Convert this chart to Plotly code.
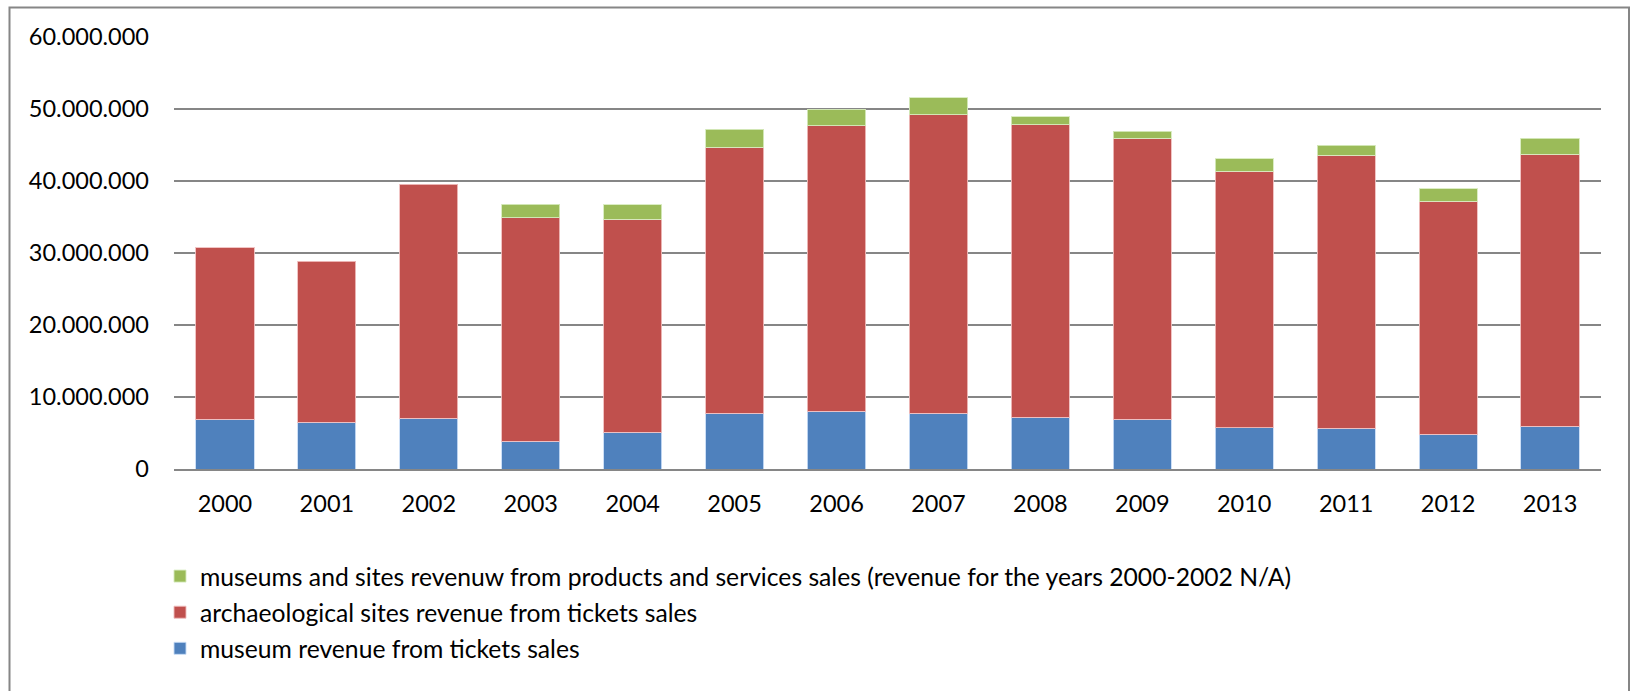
import plotly.graph_objects as go

# Annual revenue (EUR) by source, 2000-2013
years = ["2000", "2001", "2002", "2003", "2004", "2005", "2006",
         "2007", "2008", "2009", "2010", "2011", "2012", "2013"]

museum_tickets = [6880000, 6470000, 7020000, 3850000, 5090000, 7710000, 8030000,
                  7750000, 7160000, 6880000, 5730000, 5640000, 4860000, 5920000]

archaeological_tickets = [23860000, 22370000, 32520000, 31060000, 29630000, 37010000, 39660000,
                          41420000, 40660000, 39090000, 35610000, 37970000, 32360000, 37830000]

# products and services sales not available for 2000-2002
products_services = [None, None, None, 1850000, 1950000, 2460000, 2260000,
                     2360000, 1070000, 970000, 1760000, 1390000, 1670000, 2180000]

series_names = [
    "museum revenue from tickets sales",
    "archaeological sites revenue from tickets sales",
    "museums and sites revenuw from products and services sales (revenue for the years 2000-2002 N/A)",
]

y_ticks = [0, 10000000, 20000000, 30000000, 40000000, 50000000, 60000000]

# page / plot-area geometry in pixels
W, H = 1631, 691
L, R = 174, 1601
T, B = 36.5, 469.3
PW, PH = R - L, B - T


def px_x(p):
    return (p - L) / PW


def px_y(p):
    return (B - p) / PH


FONT = "Lato"
TICK_SIZE = 23.5
LEGEND_SIZE = 24.7
colors = ["#4F81BD", "#C0504D", "#9BBB59"]
edge = ["rgba(200,220,245,0.9)", "rgba(240,190,190,0.9)", "rgba(215,235,190,0.9)"]
ranks = [3, 2, 1]  # top stack segment listed first in the legend

fig = go.Figure()
for name, vals, col, ec, grp, rk in zip(series_names,
                                        [museum_tickets, archaeological_tickets, products_services],
                                        colors, edge, ["a", "b", "c"], ranks):
    fig.add_trace(go.Bar(
        x=years, y=vals, name=name, legendgroup=grp, legendrank=rk,
        marker=dict(color=col, line=dict(color=ec, width=1)),
    ))

fig.update_layout(
    width=W, height=H,
    barmode="stack",
    bargap=0.43,
    separators=",.",
    plot_bgcolor="white",
    paper_bgcolor="white",
    margin=dict(l=L, r=W - R, t=T, b=H - B, pad=0),
    font=dict(family=FONT, size=TICK_SIZE, color="#000000"),
    showlegend=True,
    legend=dict(
        x=px_x(160), y=px_y(554), xanchor="left", yanchor="top",
        orientation="v", traceorder="grouped", tracegroupgap=1,
        font=dict(family=FONT, size=LEGEND_SIZE, color="#000000"),
        bgcolor="rgba(0,0,0,0)",
    ),
    xaxis=dict(
        type="category",
        showline=True, linecolor="#868686", linewidth=2,
        showgrid=False, ticks="",
        ticklabelstandoff=13,
        tickfont=dict(family=FONT, size=TICK_SIZE, color="#000000"),
    ),
    yaxis=dict(
        range=[0, 60000000],
        tickvals=y_ticks,
        tickformat=",d",
        showgrid=True, gridcolor="#868686", gridwidth=2,
        zeroline=False, showline=False, ticks="",
        ticklabelstandoff=24,
        tickfont=dict(family=FONT, size=TICK_SIZE, color="#000000"),
    ),
    shapes=[dict(
        type="rect", xref="paper", yref="paper",
        x0=px_x(9.5), x1=px_x(1629), y0=px_y(700), y1=px_y(7),
        line=dict(color="#868686", width=2), fillcolor="rgba(0,0,0,0)",
        layer="below",
    )],
)

fig.write_html("out.html")
